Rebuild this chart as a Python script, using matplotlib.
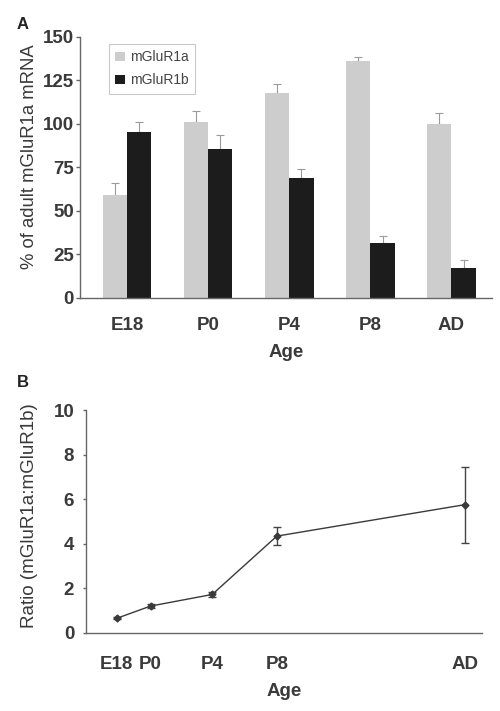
import matplotlib
matplotlib.use("Agg")
import matplotlib.pyplot as plt
import numpy as np

plt.rcParams['font.family'] = ['Liberation Sans', 'DejaVu Sans']

ages = ["E18", "P0", "P4", "P8", "AD"]
mglur1a = [59, 101, 117.6, 136.4, 100.2]
mglur1a_err = [7, 6.5, 5.5, 2.3, 6.3]
mglur1b = [95.6, 85.6, 69, 31.6, 17.2]
mglur1b_err = [5.7, 8, 5, 4, 4.6]

ratio_x = [-2.2, 0, 4, 8.2, 20.4]
ratio = [0.65, 1.2, 1.72, 4.34, 5.75]
ratio_err = [0.05, 0.08, 0.12, 0.42, 1.7]

txt = '#3a3a3a'
spine = '#666666'
FS = 13.5

fig = plt.figure(figsize=(5.0, 7.11), dpi=100)

# Panel A
axA = fig.add_axes([0.16, 0.581, 0.824, 0.367])
x = np.arange(len(ages))
w = 0.3
axA.bar(x - w/2, mglur1a, w, color='#cdcdcd', label='mGluR1a', zorder=2)
axA.bar(x + w/2, mglur1b, w, color='#1c1c1c', label='mGluR1b', zorder=2)
axA.errorbar(x - w/2, mglur1a, yerr=[np.zeros(5), mglur1a_err], fmt='none',
             ecolor='#9a9a9a', elinewidth=0.8, capsize=3, capthick=0.8, zorder=1)
axA.errorbar(x + w/2, mglur1b, yerr=[np.zeros(5), mglur1b_err], fmt='none',
             ecolor='#9a9a9a', elinewidth=0.8, capsize=3, capthick=0.8, zorder=1)
axA.set_xlim(-0.58, 4.5)
axA.set_ylim(0, 150)
axA.set_yticks(np.arange(0, 151, 25))
axA.set_xticks(x)
axA.set_xticklabels(ages, fontsize=FS, fontweight='bold', color=txt)
axA.tick_params(axis='x', length=0, pad=14)
axA.tick_params(axis='y', labelsize=FS, colors=spine, length=3, width=1, pad=1.5)
for lab in axA.get_yticklabels():
    lab.set_fontweight('bold'); lab.set_color(txt)
for s in ['top', 'right']:
    axA.spines[s].set_visible(False)
for s in ['left', 'bottom']:
    axA.spines[s].set_color(spine); axA.spines[s].set_linewidth(1)
axA.set_ylabel('% of adult mGluR1a mRNA', fontsize=13.3, color=txt)
axA.yaxis.set_label_coords(-0.101, 0.54)
axA.set_xlabel('Age', fontsize=FS, fontweight='bold', color=txt, labelpad=7)
leg = axA.legend(loc='upper left', bbox_to_anchor=(0.07, 0.973), fontsize=10,
                 frameon=True, fancybox=False, edgecolor='#bbbbbb',
                 handlelength=0.7, handleheight=0.7, handletextpad=0.4,
                 borderpad=0.45, labelspacing=0.65, labelcolor='#444444',
                 borderaxespad=0)
leg.get_frame().set_linewidth(0.8)
fig.text(0.034, 0.959, 'A', fontsize=12, fontweight='bold', color='#222222')

# Panel B
axB = fig.add_axes([0.172, 0.110, 0.791, 0.3133])
axB.errorbar(ratio_x, ratio, yerr=ratio_err, fmt='-D', color='#3a3a3a',
             markersize=3.5, lw=1, ecolor='#444444', elinewidth=1,
             capsize=3, capthick=1)
axB.set_xlim(-4.2, 21.5)
axB.set_ylim(0, 10)
axB.set_yticks(np.arange(0, 11, 2))
axB.set_xticks(ratio_x)
axB.set_xticklabels(ages, fontsize=FS, fontweight='bold', color=txt)
axB.tick_params(axis='x', length=0, pad=17)
axB.tick_params(axis='y', labelsize=FS, colors=spine, length=2.5, width=1, pad=6)
for lab in axB.get_yticklabels():
    lab.set_fontweight('bold'); lab.set_color(txt)
for s in ['top', 'right']:
    axB.spines[s].set_visible(False)
for s in ['left', 'bottom']:
    axB.spines[s].set_color(spine); axB.spines[s].set_linewidth(1)
axB.set_ylabel('Ratio (mGluR1a:mGluR1b)', fontsize=13.5, color=txt)
axB.yaxis.set_label_coords(-0.122, 0.528)
axB.set_xlabel('Age', fontsize=FS, fontweight='bold', color=txt, labelpad=7)
fig.text(0.034, 0.455, 'B', fontsize=12, fontweight='bold', color='#222222')

fig.savefig('out.png', dpi=100)
